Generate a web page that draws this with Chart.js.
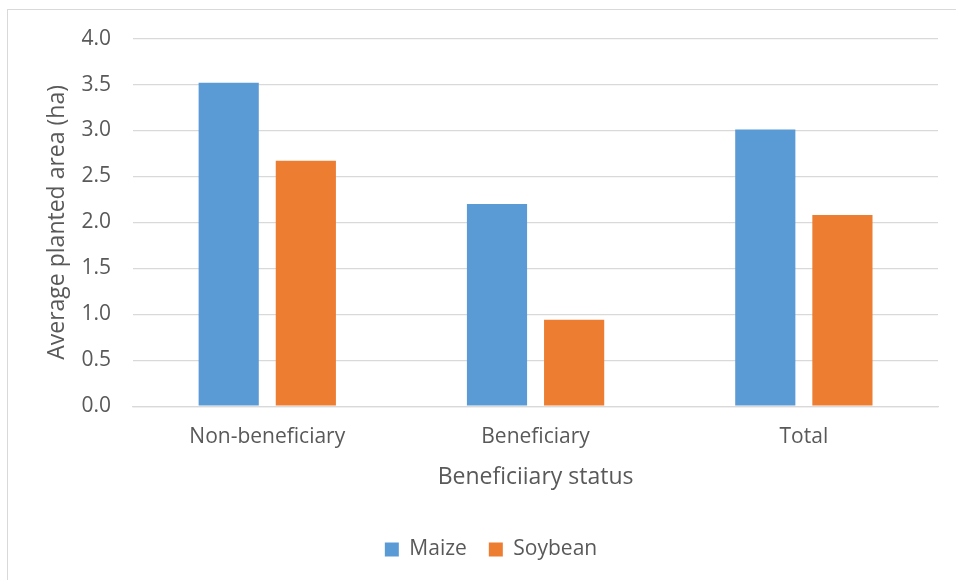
<!DOCTYPE html>
<html>
<head>
<meta charset="utf-8">
<script src="https://cdn.jsdelivr.net/npm/chart.js@4"></script>
<style>
  html, body { margin: 0; padding: 0; background: #fff; overflow: hidden; }
  #frame {
    position: absolute; left: 7px; top: 9px;
    width: 966px; height: 600px; overflow: hidden;
    border: 1px solid #d9d9d9; background: #fff;
  }
  #areaChart { display: block; margin-top: -6px; }
</style>
</head>
<body>
<div id="frame"><canvas id="areaChart" width="966" height="606"></canvas></div>
<script>
const categories = ['Non-beneficiary', 'Beneficiary', 'Total'];
const maize = [3.52, 2.20, 3.01];
const soybean = [2.67, 0.94, 2.08];
const yTicks = [0, 0.5, 1, 1.5, 2, 2.5, 3, 3.5, 4];

const textColor = '#595959';
const gridColor = '#d9d9d9';
const fontFamily = '"Open Sans", sans-serif';

document.addEventListener('DOMContentLoaded', function() {
    const ctx = document.getElementById('areaChart').getContext('2d');
    new Chart(ctx, {
        type: 'bar',
        data: {
            labels: categories,
            datasets: [{
                label: 'Maize',
                data: maize,
                backgroundColor: '#5B9BD5',
                categoryPercentage: 0.575,
                barPercentage: 0.78
            }, {
                label: 'Soybean',
                data: soybean,
                backgroundColor: '#ED7D31',
                categoryPercentage: 0.575,
                barPercentage: 0.78
            }]
        },
        options: {
            responsive: false,
            animation: false,
            layout: { padding: { top: 8, right: 36, bottom: 40, left: 36 } },
            plugins: {
                tooltip: { enabled: false },
                legend: {
                    position: 'bottom',
                    labels: {
                        color: textColor,
                        font: { family: fontFamily, size: 21 },
                        boxWidth: 14,
                        boxHeight: 14,
                        padding: 22
                    }
                }
            },
            scales: {
                x: {
                    grid: { display: false },
                    border: { color: gridColor, width: 1.3 },
                    ticks: {
                        color: textColor,
                        font: { family: fontFamily, size: 21 },
                        padding: 10
                    },
                    title: {
                        display: true,
                        text: 'Beneficiiary status',
                        color: textColor,
                        font: { family: fontFamily, size: 23 },
                        padding: { top: 4, bottom: 26 }
                    }
                },
                y: {
                    min: 0,
                    max: 4,
                    afterBuildTicks: function(axis) {
                        axis.ticks = yTicks.map(v => ({ value: v }));
                    },
                    grid: { color: gridColor, lineWidth: 1.3, drawTicks: false },
                    border: { display: false },
                    ticks: {
                        color: textColor,
                        font: { family: fontFamily, size: 21 },
                        padding: 22,
                        callback: v => Number(v).toFixed(1)
                    },
                    title: {
                        display: true,
                        text: 'Average planted area (ha)',
                        color: textColor,
                        font: { family: fontFamily, size: 23 },
                        padding: { top: 0, bottom: -12 }
                    }
                }
            }
        }
    });
});
</script>
</body>
</html>
